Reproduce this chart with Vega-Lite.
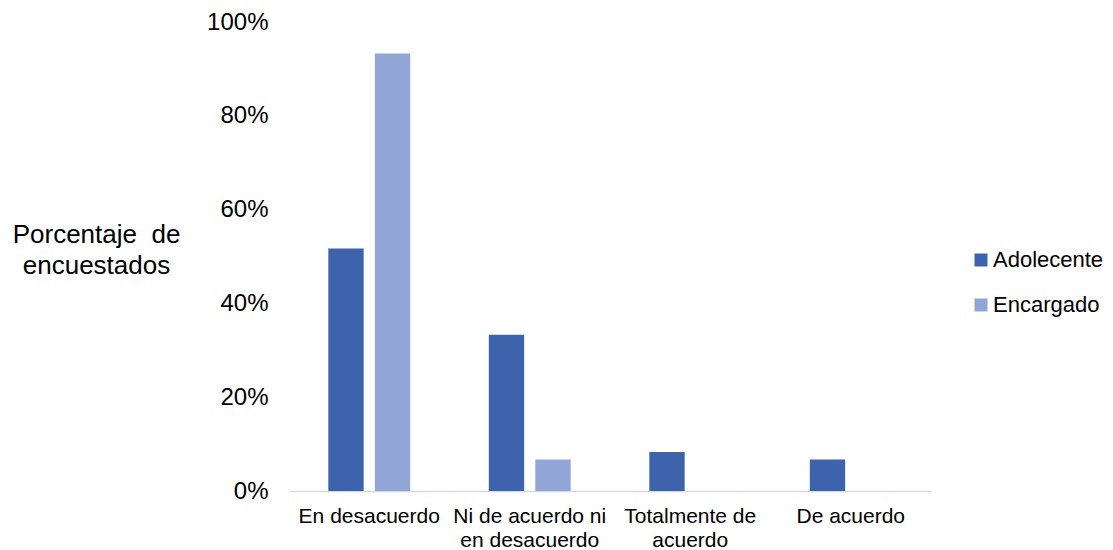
{
  "$schema": "https://vega.github.io/schema/vega-lite/v6.json",
  "width": 642,
  "height": 469,
  "autosize": {"type": "none"},
  "padding": {"left": 289, "top": 22, "right": 182, "bottom": 59},
  "background": "white",
  "config": {
    "view": {"stroke": null},
    "font": "Liberation Sans"
  },
  "data": {
    "values": [
      {"respuesta": "En desacuerdo", "grupo": "Adolecente", "pct": 0.517},
      {"respuesta": "En desacuerdo", "grupo": "Encargado", "pct": 0.933},
      {"respuesta": "Ni de acuerdo ni en desacuerdo", "grupo": "Adolecente", "pct": 0.333},
      {"respuesta": "Ni de acuerdo ni en desacuerdo", "grupo": "Encargado", "pct": 0.067},
      {"respuesta": "Totalmente de acuerdo", "grupo": "Adolecente", "pct": 0.083},
      {"respuesta": "Totalmente de acuerdo", "grupo": "Encargado", "pct": 0.0},
      {"respuesta": "De acuerdo", "grupo": "Adolecente", "pct": 0.067},
      {"respuesta": "De acuerdo", "grupo": "Encargado", "pct": 0.0}
    ]
  },
  "mark": {"type": "bar"},
  "encoding": {
    "x": {
      "field": "respuesta",
      "type": "nominal",
      "sort": ["En desacuerdo", "Ni de acuerdo ni en desacuerdo", "Totalmente de acuerdo", "De acuerdo"],
      "scale": {"paddingInner": 0.49, "paddingOuter": 0.245},
      "axis": {
        "title": null,
        "labelAngle": 0,
        "labelFontSize": 21,
        "labelColor": "#000000",
        "labelPadding": 14,
        "labelLimit": 0,
        "labelLineHeight": 24,
        "labelExpr": "datum.label == 'Ni de acuerdo ni en desacuerdo' ? ['Ni de acuerdo ni', 'en desacuerdo'] : datum.label == 'Totalmente de acuerdo' ? ['Totalmente de', 'acuerdo'] : datum.label",
        "ticks": false,
        "domainColor": "#d9d9d9",
        "domainWidth": 1.5,
        "grid": false
      }
    },
    "xOffset": {
      "field": "grupo",
      "type": "nominal",
      "scale": {"paddingInner": 0.24, "paddingOuter": 0}
    },
    "y": {
      "field": "pct",
      "type": "quantitative",
      "scale": {"domain": [0, 1]},
      "axis": {
        "title": ["Porcentaje\u00a0 de", "encuestados"],
        "titleAngle": 0,
        "titleAlign": "center",
        "titleBaseline": "alphabetic",
        "titleX": -193,
        "titleY": 220,
        "titleFontSize": 26,
        "titleFontWeight": "normal",
        "titleColor": "#000000",
        "titleLineHeight": 31,
        "values": [0, 0.2, 0.4, 0.6, 0.8, 1],
        "format": ".0%",
        "labelFontSize": 24,
        "labelColor": "#000000",
        "labelPadding": 21,
        "ticks": false,
        "domain": false,
        "grid": false
      }
    },
    "color": {
      "field": "grupo",
      "type": "nominal",
      "scale": {"domain": ["Adolecente", "Encargado"], "range": ["#3d63ad", "#91a6d6"]},
      "legend": {
        "title": null,
        "orient": "none",
        "legendX": 681,
        "legendY": 227,
        "symbolType": "square",
        "symbolSize": 169,
        "symbolStrokeWidth": 0,
        "labelFontSize": 22,
        "labelColor": "#000000",
        "labelOffset": 1,
        "rowPadding": 23,
        "padding": 0
      }
    }
  }
}
